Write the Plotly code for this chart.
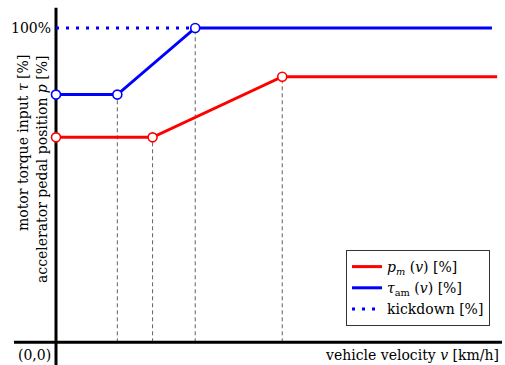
import plotly.graph_objects as go

# Characteristic curves: accelerator pedal position p_m(v) and motor torque input tau_am(v)
velocity_pm = [0.0, 22.2, 52.0, 101.4]
pedal_pm = [65.2, 65.2, 84.5, 84.5]

velocity_tau = [0.0, 14.1, 32.0, 100.2]
torque_tau = [78.8, 78.8, 100.0, 100.0]

# Kickdown level, held at full torque until tau_am reaches it
velocity_kick = [0.0, 32.0]
kickdown = [100.0, 100.0]

RED = "#ff0000"
BLUE = "#0000ff"
FONT = "DejaVu Serif"

fig = go.Figure()

fig.add_trace(go.Scatter(
    x=velocity_pm, y=pedal_pm, mode="lines",
    line=dict(color=RED, width=3),
    name="<i>p</i><sub><i>m</i></sub> (<i>v</i>) [%]",
))
fig.add_trace(go.Scatter(
    x=velocity_tau, y=torque_tau, mode="lines",
    line=dict(color=BLUE, width=3),
    name="<i>τ</i><sub>am</sub> (<i>v</i>) [%]",
))
fig.add_trace(go.Scatter(
    x=velocity_kick, y=kickdown, mode="lines",
    line=dict(color=BLUE, width=3, dash="3px,7px"),
    name="kickdown [%]",
))

# Open circles on the breakpoints (all but the final point)
for vx, vy, col in [(velocity_pm, pedal_pm, RED), (velocity_tau, torque_tau, BLUE)]:
    fig.add_trace(go.Scatter(
        x=vx[:-1], y=vy[:-1], mode="markers", showlegend=False,
        marker=dict(size=9, color="white", line=dict(color=col, width=1.6)),
    ))

# Dashed guides from the interior breakpoints down to the velocity axis
for vx, vy in [(velocity_pm, pedal_pm), (velocity_tau, torque_tau)]:
    for xv, yv in zip(vx[1:-1], vy[1:-1]):
        fig.add_shape(type="line", xref="x", yref="y", x0=xv, x1=xv, y0=0, y1=yv,
                      line=dict(color="#606060", width=1, dash="4px,3px"), layer="below")

# Axes drawn as heavy black lines crossing at the origin
X_MIN, X_MAX = -12.87, 103.2
Y_MIN, Y_MAX = -7.22, 108.9
fig.add_shape(type="line", xref="x", yref="y", x0=0, x1=0, y0=Y_MIN, y1=106.4,
              line=dict(color="black", width=3), layer="below")
fig.add_shape(type="line", xref="x", yref="y", x0=-9.66, x1=102.5, y0=0, y1=0,
              line=dict(color="black", width=3), layer="below")

txt = dict(family=FONT, size=14, color="black")
fig.add_annotation(x=-0.8, y=100, xref="x", yref="y", text="100%", showarrow=False,
                   xanchor="right", yanchor="middle", font=txt)
fig.add_annotation(x=-0.8, y=-3.9, xref="x", yref="y", text="(0,0)", showarrow=False,
                   xanchor="right", yanchor="middle", font=txt)
fig.add_annotation(x=102.3, y=-3.9, xref="x", yref="y",
                   text="vehicle velocity <i>v</i> [km/h]", showarrow=False,
                   xanchor="right", yanchor="middle", font=txt)
fig.add_annotation(x=23 / 505, y=1 - 53 / 365, xref="paper", yref="paper",
                   text="motor torque input <i>τ</i> [%]", textangle=-90, showarrow=False,
                   xanchor="center", yanchor="top", font=txt)
fig.add_annotation(x=42 / 505, y=1 - 53 / 365, xref="paper", yref="paper",
                   text="accelerator pedal position <i>p</i> [%]", textangle=-90, showarrow=False,
                   xanchor="center", yanchor="top", font=txt)

fig.update_layout(
    width=505, height=365,
    margin=dict(l=0, r=0, t=0, b=0),
    paper_bgcolor="white", plot_bgcolor="white",
    xaxis=dict(visible=False, range=[X_MIN, X_MAX], fixedrange=True),
    yaxis=dict(visible=False, range=[Y_MIN, Y_MAX], fixedrange=True),
    hovermode=False,
    showlegend=True,
    legend=dict(
        x=490 / 505, xanchor="right", y=1 - 250 / 365, yanchor="top",
        bordercolor="#333333", borderwidth=1, bgcolor="white",
        font=dict(family=FONT, size=14, color="black"),
        tracegroupgap=0,
    ),
)

fig.write_html("out.html")
